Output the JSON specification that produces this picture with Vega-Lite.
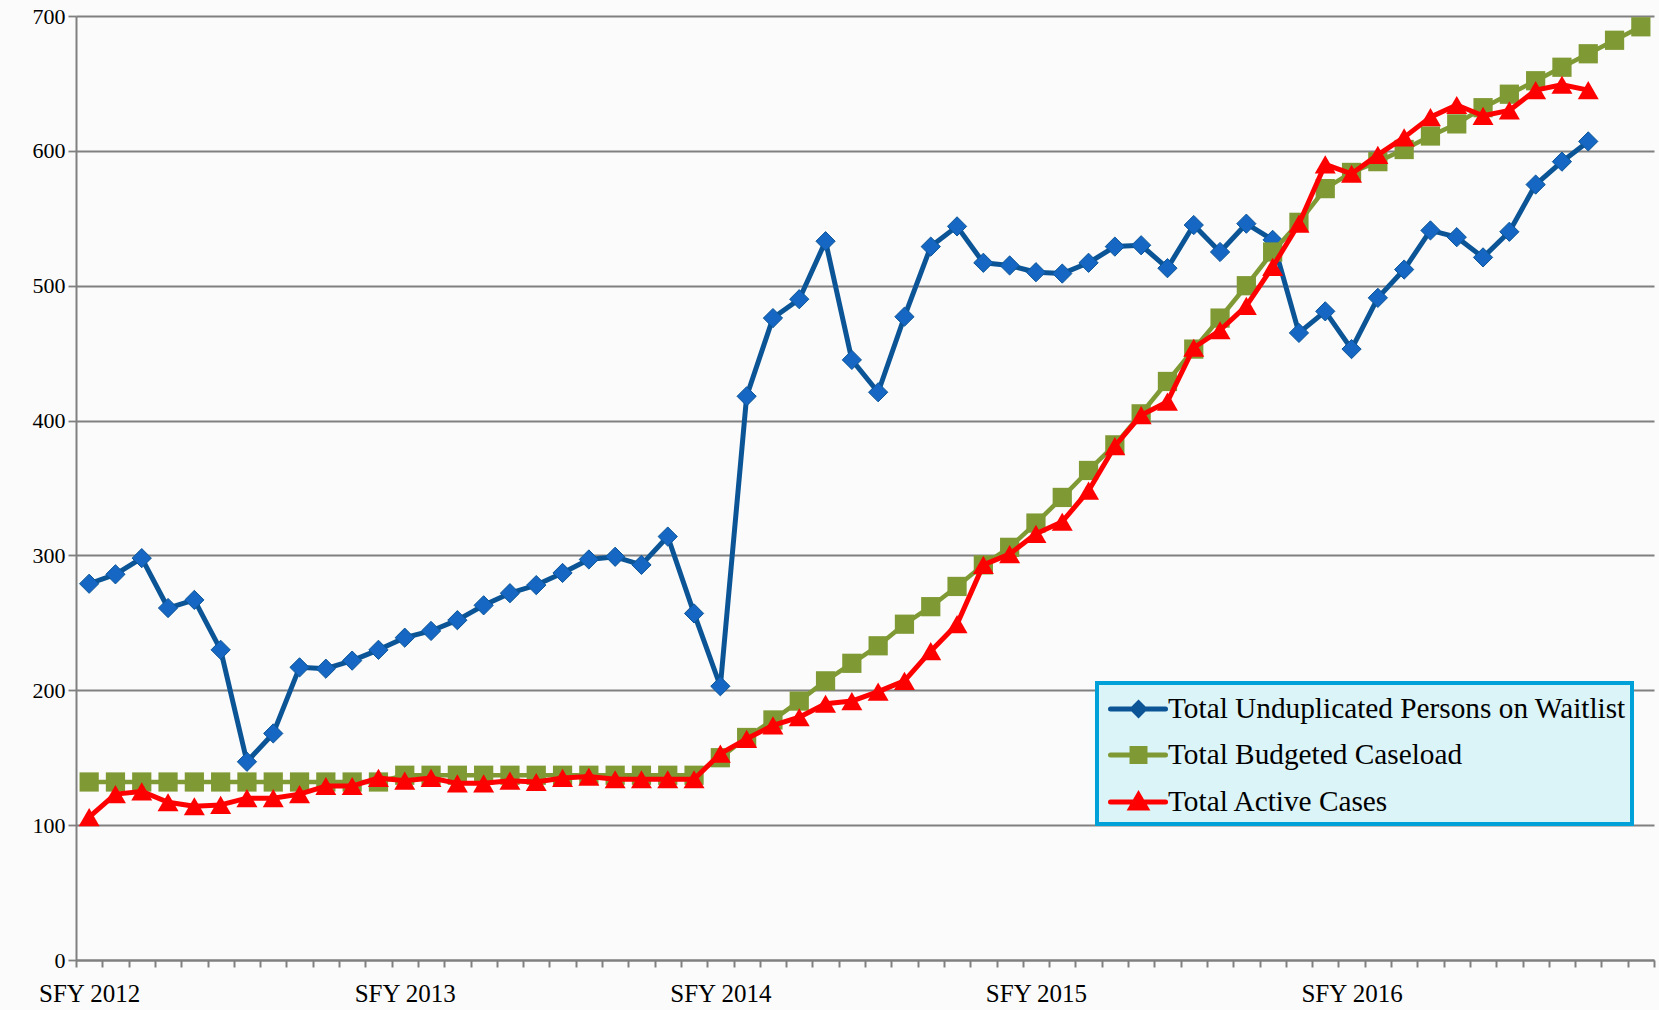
{
  "$schema": "https://vega.github.io/schema/vega-lite/v6.json",
  "width": 1578,
  "height": 944,
  "autosize": {"type": "none"},
  "padding": {"left": 76, "top": 16, "right": 5, "bottom": 50},
  "background": "#fbfbfb",
  "config": {"view": {"stroke": null}, "font": "Liberation Serif"},
  "data": {"values": [
    {"month": 0, "waitlist": 279, "budgeted": 132, "active": 106},
    {"month": 1, "waitlist": 286, "budgeted": 132, "active": 123},
    {"month": 2, "waitlist": 298, "budgeted": 132, "active": 125},
    {"month": 3, "waitlist": 261, "budgeted": 132, "active": 117},
    {"month": 4, "waitlist": 267, "budgeted": 132, "active": 114},
    {"month": 5, "waitlist": 230, "budgeted": 132, "active": 115},
    {"month": 6, "waitlist": 147, "budgeted": 132, "active": 120},
    {"month": 7, "waitlist": 168, "budgeted": 132, "active": 120},
    {"month": 8, "waitlist": 217, "budgeted": 132, "active": 123},
    {"month": 9, "waitlist": 216, "budgeted": 132, "active": 129},
    {"month": 10, "waitlist": 222, "budgeted": 132, "active": 129},
    {"month": 11, "waitlist": 230, "budgeted": 132, "active": 135},
    {"month": 12, "waitlist": 239, "budgeted": 137, "active": 133},
    {"month": 13, "waitlist": 244, "budgeted": 137, "active": 135},
    {"month": 14, "waitlist": 252, "budgeted": 137, "active": 131},
    {"month": 15, "waitlist": 263, "budgeted": 137, "active": 131},
    {"month": 16, "waitlist": 272, "budgeted": 137, "active": 133},
    {"month": 17, "waitlist": 278, "budgeted": 137, "active": 132},
    {"month": 18, "waitlist": 287, "budgeted": 137, "active": 135},
    {"month": 19, "waitlist": 297, "budgeted": 137, "active": 136},
    {"month": 20, "waitlist": 299, "budgeted": 137, "active": 134},
    {"month": 21, "waitlist": 293, "budgeted": 137, "active": 134},
    {"month": 22, "waitlist": 314, "budgeted": 137, "active": 134},
    {"month": 23, "waitlist": 257, "budgeted": 137, "active": 134},
    {"month": 24, "waitlist": 203, "budgeted": 150, "active": 153},
    {"month": 25, "waitlist": 418, "budgeted": 165, "active": 164},
    {"month": 26, "waitlist": 476, "budgeted": 178, "active": 174},
    {"month": 27, "waitlist": 490, "budgeted": 192, "active": 180},
    {"month": 28, "waitlist": 533, "budgeted": 207, "active": 190},
    {"month": 29, "waitlist": 445, "budgeted": 220, "active": 192},
    {"month": 30, "waitlist": 421, "budgeted": 233, "active": 199},
    {"month": 31, "waitlist": 477, "budgeted": 249, "active": 207},
    {"month": 32, "waitlist": 529, "budgeted": 262, "active": 229},
    {"month": 33, "waitlist": 544, "budgeted": 277, "active": 249},
    {"month": 34, "waitlist": 517, "budgeted": 293, "active": 293},
    {"month": 35, "waitlist": 515, "budgeted": 306, "active": 301},
    {"month": 36, "waitlist": 510, "budgeted": 324, "active": 316},
    {"month": 37, "waitlist": 509, "budgeted": 343, "active": 325},
    {"month": 38, "waitlist": 517, "budgeted": 363, "active": 348},
    {"month": 39, "waitlist": 529, "budgeted": 382, "active": 381},
    {"month": 40, "waitlist": 530, "budgeted": 405, "active": 404},
    {"month": 41, "waitlist": 513, "budgeted": 429, "active": 414},
    {"month": 42, "waitlist": 545, "budgeted": 453, "active": 454},
    {"month": 43, "waitlist": 525, "budgeted": 476, "active": 467},
    {"month": 44, "waitlist": 546, "budgeted": 500, "active": 485},
    {"month": 45, "waitlist": 534, "budgeted": 525, "active": 514},
    {"month": 46, "waitlist": 465, "budgeted": 547, "active": 546},
    {"month": 47, "waitlist": 481, "budgeted": 572, "active": 590},
    {"month": 48, "waitlist": 453, "budgeted": 584, "active": 583},
    {"month": 49, "waitlist": 491, "budgeted": 592, "active": 597},
    {"month": 50, "waitlist": 512, "budgeted": 601, "active": 610},
    {"month": 51, "waitlist": 541, "budgeted": 611, "active": 625},
    {"month": 52, "waitlist": 536, "budgeted": 620, "active": 634},
    {"month": 53, "waitlist": 521, "budgeted": 632, "active": 626},
    {"month": 54, "waitlist": 540, "budgeted": 642, "active": 630},
    {"month": 55, "waitlist": 575, "budgeted": 652, "active": 645},
    {"month": 56, "waitlist": 592, "budgeted": 662, "active": 649},
    {"month": 57, "waitlist": 607, "budgeted": 672, "active": 645},
    {"month": 58, "budgeted": 682},
    {"month": 59, "budgeted": 692}
  ]},
  "encoding": {
    "x": {
      "field": "month",
      "type": "quantitative",
      "scale": {"domain": [-0.5, 59.5], "nice": false, "zero": false},
      "axis": {
        "title": null,
        "grid": false,
        "values": [-0.5, 0.5, 1.5, 2.5, 3.5, 4.5, 5.5, 6.5, 7.5, 8.5, 9.5, 10.5, 11.5, 12.5, 13.5, 14.5, 15.5, 16.5, 17.5, 18.5, 19.5, 20.5, 21.5, 22.5, 23.5, 24.5, 25.5, 26.5, 27.5, 28.5, 29.5, 30.5, 31.5, 32.5, 33.5, 34.5, 35.5, 36.5, 37.5, 38.5, 39.5, 40.5, 41.5, 42.5, 43.5, 44.5, 45.5, 46.5, 47.5, 48.5, 49.5, 50.5, 51.5, 52.5, 53.5, 54.5, 55.5, 56.5, 57.5, 58.5, 59.5],
        "labelExpr": "((datum.value + 0.5) % 12 == 0 && datum.value < 59) ? 'SFY ' + (2012 + (datum.value + 0.5) / 12) : ''",
        "labelOffset": 13.15,
        "labelFlush": false,
        "labelOverlap": false,
        "labelFontSize": 25,
        "labelColor": "#000000",
        "labelPadding": 14,
        "domainColor": "#808080",
        "domainWidth": 2,
        "tickColor": "#808080",
        "tickWidth": 2,
        "tickSize": 7
      }
    }
  },
  "layer": [
    {
      "layer": [
        {
          "mark": {"type": "line", "strokeWidth": 5, "strokeJoin": "round"},
          "encoding": {
            "y": {
              "field": "waitlist",
              "type": "quantitative",
              "scale": {"domain": [0, 700], "nice": false},
              "axis": {
                "title": null,
                "values": [0, 100, 200, 300, 400, 500, 600, 700],
                "grid": true,
                "gridColor": "#808080",
                "gridWidth": 1.8,
                "domainColor": "#808080",
                "domainWidth": 2,
                "tickColor": "#808080",
                "tickWidth": 1.8,
                "tickSize": 8,
                "labelFontSize": 22,
                "labelColor": "#000000",
                "labelPadding": 3
              }
            },
            "color": {
              "datum": "Total Unduplicated Persons on Waitlist",
              "type": "nominal",
              "scale": {
                "domain": ["Total Unduplicated Persons on Waitlist", "Total Budgeted Caseload", "Total Active Cases"],
                "range": ["#0b5597", "#7f9a34", "#ff0000"]
              },
              "legend": {
                "title": null,
                "orient": "none",
                "legendX": 1021,
                "legendY": 667,
                "fillColor": "#dbf4f8",
                "strokeColor": "#00a0d8",
                "padding": 6,
                "labelFont": "Liberation Serif",
                "labelFontSize": 29.3,
                "labelColor": "#000000",
                "labelLimit": 800,
                "labelOffset": 25,
                "symbolSize": 1225,
                "symbolStrokeWidth": 5,
                "rowPadding": 10,
                "encode": {
                  "legend": {
                    "update": {
                      "strokeWidth": {"value": 4}
                    }
                  },
                  "symbols": {
                    "update": {
                      "shape": {"signal": "datum.value === 'Total Unduplicated Persons on Waitlist' ? 'M-0.714,0H2.43M0.886,-0.34L1.226,0L0.886,0.34L0.546,0Z' : datum.value === 'Total Budgeted Caseload' ? 'M-0.714,0H2.43M0.516,-0.37H1.256V0.37H0.516Z' : 'M-0.714,0H2.43M0.886,-0.4L1.316,0.34H0.456Z'"},
                      "fill": {"signal": "datum.value === 'Total Unduplicated Persons on Waitlist' ? '#1667c4' : datum.value === 'Total Budgeted Caseload' ? '#7f9a34' : '#ff0000'"},
                      "stroke": {"signal": "datum.value === 'Total Unduplicated Persons on Waitlist' ? '#0b5597' : datum.value === 'Total Budgeted Caseload' ? '#7f9a34' : '#ff0000'"},
                      "strokeCap": {"value": "round"},
                      "opacity": {"value": 1}
                    }
                  }
                }
              }
            }
          }
        },
        {
          "mark": {"type": "point", "shape": "diamond", "filled": true, "size": 370, "fill": "#1667c4", "stroke": "#0b5597", "strokeWidth": 1, "opacity": 1},
          "encoding": {"y": {"field": "waitlist", "type": "quantitative"}}
        }
      ]
    },
    {
      "layer": [
        {
          "mark": {"type": "line", "strokeWidth": 4.5, "strokeJoin": "round"},
          "encoding": {
            "y": {"field": "budgeted", "type": "quantitative"},
            "color": {"datum": "Total Budgeted Caseload", "type": "nominal"}
          }
        },
        {
          "mark": {"type": "point", "shape": "square", "filled": true, "size": 370, "fill": "#7f9a34", "opacity": 1},
          "encoding": {"y": {"field": "budgeted", "type": "quantitative"}}
        }
      ]
    },
    {
      "layer": [
        {
          "mark": {"type": "line", "strokeWidth": 5, "strokeJoin": "round"},
          "encoding": {
            "y": {"field": "active", "type": "quantitative"},
            "color": {"datum": "Total Active Cases", "type": "nominal"}
          }
        },
        {
          "mark": {"type": "point", "shape": "triangle-up", "filled": true, "size": 440, "fill": "#ff0000", "opacity": 1},
          "encoding": {"y": {"field": "active", "type": "quantitative"}}
        }
      ]
    }
  ]
}
